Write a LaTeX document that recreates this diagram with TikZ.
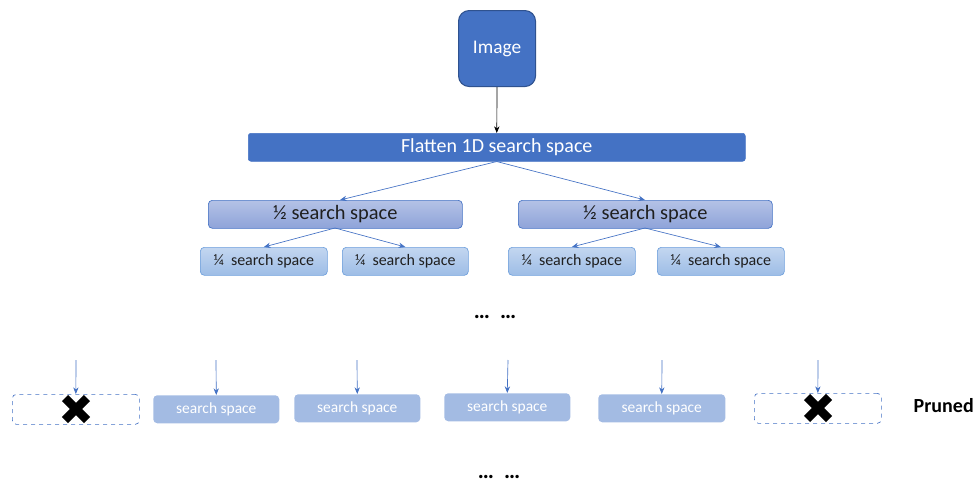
\documentclass[tikz,border=0pt]{standalone}
\usepackage{fontspec}
\setmainfont{Carlito}
\usetikzlibrary{arrows.meta}
\definecolor{mblue}{HTML}{4472C4}
\definecolor{mdark}{HTML}{2F528F}
\definecolor{halftop}{HTML}{B4C2E6}
\definecolor{halfbot}{HTML}{8EA3D9}
\definecolor{qtop}{HTML}{C3D6F0}
\definecolor{qbot}{HTML}{9DBDE6}
\definecolor{qline}{HTML}{6FA0DC}
\definecolor{sfill}{HTML}{A3BBE3}
\definecolor{txtdark}{HTML}{1F1F1F}
\begin{document}
\begin{tikzpicture}[x=0.75pt,y=-0.75pt,
  imgbox/.style={draw=mdark,line width=0.8pt,fill=mblue,rounded corners=8pt,text=white,font=\fontsize{14.5}{16}\selectfont,anchor=north west,inner sep=0pt},
  flatbox/.style={draw=mblue,fill=mblue,rounded corners=2pt,text=white,font=\fontsize{15}{17}\selectfont,anchor=north west,inner sep=0pt},
  halfbox/.style={draw=mblue,line width=0.5pt,top color=halftop,bottom color=halfbot,rounded corners=3pt,text=txtdark,font=\fontsize{15.3}{17}\selectfont,anchor=north west,inner sep=0pt},
  qbox/.style={draw=qline,line width=0.5pt,top color=qtop,bottom color=qbot,rounded corners=3pt,text=txtdark,font=\fontsize{12}{14}\selectfont,anchor=north west,inner sep=0pt},
  sbox/.style={draw=none,fill=sfill,rounded corners=3pt,text=white,font=\fontsize{11.6}{13}\selectfont,anchor=north west,inner sep=0pt},
  pbox/.style={draw=mblue,dashed,line width=0.5pt,rounded corners=3pt,anchor=north west,inner sep=0pt},
  conn/.style={draw=mblue,line width=0.5pt,-{Stealth[length=5pt,width=4pt]}},
  xmark/.style={line width=6.5pt,black},
  dots/.style={font=\bfseries\fontsize{17}{18}\selectfont}
]
\useasboundingbox (0,0) rectangle (978,489);
% top
\node[imgbox,minimum width=77*0.75pt,minimum height=76*0.75pt] (img) at (458,10) {Image};
\node[flatbox,minimum width=497*0.75pt,minimum height=28*0.75pt] (flat) at (248,133) {Flatten 1D search space};
\draw[black,line width=0.5pt,-{Stealth[length=5pt,width=4pt]}] (img.south) -- (flat.north);
% halves
\node[halfbox,minimum width=254*0.75pt,minimum height=28*0.75pt] (h1) at (208,200) {½ search space};
\node[halfbox,minimum width=254*0.75pt,minimum height=28*0.75pt] (h2) at (518,200) {½ search space};
\coordinate (h1t) at (340,200);
\coordinate (h2t) at (645,200);
\draw[conn] (flat.south) -- (h1t);
\draw[conn] (flat.south) -- (h2t);
% quarters
\node[qbox,minimum width=127*0.75pt,minimum height=28*0.75pt] (q1) at (200,247) {¼\ \ search space};
\node[qbox,minimum width=126*0.75pt,minimum height=28*0.75pt] (q2) at (342,247) {¼\ \ search space};
\node[qbox,minimum width=127*0.75pt,minimum height=28*0.75pt] (q3) at (508,247) {¼\ \ search space};
\node[qbox,minimum width=127*0.75pt,minimum height=28*0.75pt] (q4) at (657,247) {¼\ \ search space};
\coordinate (h1b) at (335,228);
\coordinate (h2b) at (645,228);
\draw[conn] (h1b) -- (q1.north);
\draw[conn] (h1b) -- (q2.north);
\draw[conn] (h2b) -- (q3.north);
\draw[conn] (h2b) -- (q4.north);
% dots
\node[dots] (d1) at (495,317) {…\ \ …};
% bottom row
\node[pbox,minimum width=127*0.75pt,minimum height=30*0.75pt] (b1) at (12,394) {};
\node[sbox,minimum width=126*0.75pt,minimum height=28*0.75pt] (b2) at (153,395) {search space};
\node[sbox,minimum width=126*0.75pt,minimum height=28*0.75pt] (b3) at (294,394) {search space};
\node[sbox,minimum width=126*0.75pt,minimum height=28*0.75pt] (b4) at (444,393) {search space};
\node[sbox,minimum width=127*0.75pt,minimum height=28*0.75pt] (b5) at (598,394) {search space};
\node[pbox,minimum width=127*0.75pt,minimum height=30*0.75pt] (b6) at (754,393) {};
\foreach \i/\x in {1/76,2/216,3/357,4/508,5/662,6/818}{
  \coordinate (a\i) at (\x,360);
  \draw[conn] (a\i) -- (b\i.north);
}
% crosses
\coordinate (x1) at (76,409);
\coordinate (x6) at (818,408);
\foreach \c in {x1,x6}{
  \draw[xmark] ([shift={(-11,-11)}]\c) -- ([shift={(11,11)}]\c);
  \draw[xmark] ([shift={(-11,11)}]\c) -- ([shift={(11,-11)}]\c);
}
\node[font=\bfseries\fontsize{15}{17}\selectfont,anchor=west] (pr) at (909,406) {Pruned};
\node[dots] (d2) at (499,477) {…\ \ …};
\end{tikzpicture}
\end{document}
